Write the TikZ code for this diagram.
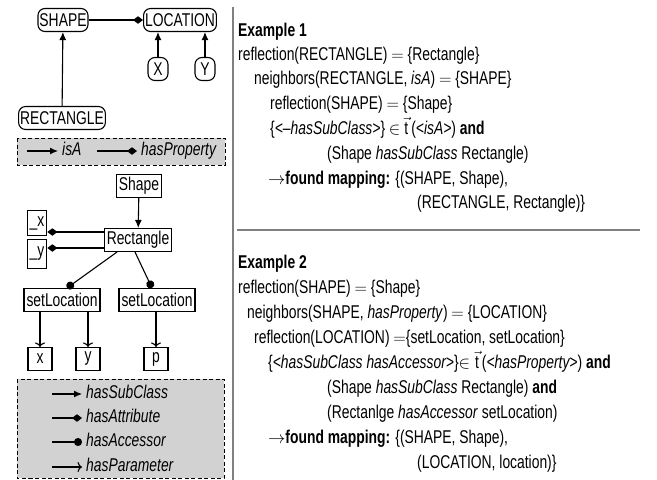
\documentclass[tikz,border=0pt]{standalone}
\usepackage{fontspec}
\setmainfont{Liberation Sans}[FakeStretch=0.75]
\usepackage{tikz}
\usetikzlibrary{arrows.meta}
\tikzstyle{concept} = [rectangle, rounded corners=7pt, draw=black, line width=1.1pt, minimum height=23pt, inner xsep=1.5pt, inner ysep=0pt]
\tikzstyle{entity} = [rectangle, draw=black, line width=1.1pt, minimum height=23pt, inner xsep=2.5pt, inner ysep=0pt]
\tikzstyle{legendbox} = [draw=black, line width=0.9pt, dash pattern=on 4pt off 2.5pt, fill=gray!35]
\tikzstyle{legtext} = [anchor=west, inner xsep=4pt, inner ysep=0pt, text height=13pt, text depth=4pt]
\tikzstyle{row} = [anchor=base west, inner sep=0pt]
\tikzstyle{divider} = [line width=2.5pt, draw=gray]
\tikzstyle{isa} = [line width=1.1pt, -{Latex[length=8pt,width=7pt]}]
\tikzstyle{hasprop} = [line width=1.1pt, -{Diamond[length=10pt,width=7.5pt]}]
\tikzstyle{accessor} = [line width=1.1pt, -{Circle[length=8pt]}]
\tikzstyle{paramarrow} = [line width=1.1pt, -{To[length=4.5pt,width=10pt]}]

\begin{document}
\begin{tikzpicture}[x=1pt, y=-1pt, font=\fontsize{18.5}{21}\selectfont]
\useasboundingbox (0,0) rectangle (657,480);

% ontology graph
\node (SHAPE) [concept] at (63,20) {SHAPE};
\node (LOCATION) [concept] at (180,20) {LOCATION};
\node (X) [concept, minimum width=20pt] at (158,69) {X};
\node (Y) [concept, minimum width=20pt] at (205,69) {Y};
\node (RECTANGLE) [concept] at (62,118) {RECTANGLE};

\draw [isa] (RECTANGLE) -- (SHAPE);
\draw [hasprop] (SHAPE) -- (LOCATION);
\draw [isa] (X) -- (X |- LOCATION.south);
\draw [isa] (Y) -- (Y |- LOCATION.south);

% legend of the ontology
\draw [legendbox] (17,138) rectangle (225,165);
\coordinate (IsAStart) at (27,151);
\node (IsA) [legtext] at (58,151) {\textit{isA}};
\coordinate (HasPropStart) at (97,151);
\node (HasProp) [legtext] at (137,151) {\textit{hasProperty}};
\draw [isa] (IsAStart) -- (IsA.west);
\draw [hasprop] (HasPropStart) -- (HasProp.west);

% code model graph
\node (Shape) [entity] at (139,186) {Shape};
\node (Rectangle) [entity] at (138,240) {Rectangle};
\node (UX) [entity, minimum height=25pt] at (37,223) {\_x};
\node (UY) [entity, minimum height=29pt] at (37,254) {\_y};
\node (SetLocA) [entity] at (62,300) {setLocation};
\node (SetLocB) [entity] at (157,300) {setLocation};
\node (ParX) [entity, minimum width=24pt] at (40,359) {x};
\node (ParY) [entity, minimum width=24pt] at (88,359) {y};
\node (ParP) [entity, minimum width=24pt] at (156,359) {p};

\draw [isa] (Shape) -- (Rectangle);
\draw [hasprop] ([yshift=8pt]Rectangle.west) -- ([yshift=8pt]Rectangle.west -| UX.east);
\draw [hasprop] ([yshift=-8pt]Rectangle.west) -- ([yshift=-8pt]Rectangle.west -| UY.east);
\draw [accessor] ([xshift=-21pt]Rectangle.south) -- ([xshift=5pt]SetLocA.north);
\draw [accessor] ([xshift=-3pt]Rectangle.south) -- ([xshift=-5pt]SetLocB.north);
\draw [paramarrow] (ParX |- SetLocA.south) -- (ParX);
\draw [paramarrow] (ParY |- SetLocA.south) -- (ParY);
\draw [paramarrow] (ParP |- SetLocB.south) -- (ParP);

% legend of the code model
\draw [legendbox] (17,379) rectangle (224,478);
\coordinate (SubStart) at (52,394);
\node (Sub) [legtext] at (82,394) {\textit{hasSubClass}};
\coordinate (AttrStart) at (52,418);
\node (Attr) [legtext] at (82,418) {\textit{hasAttribute}};
\coordinate (AccStart) at (52,442);
\node (Acc) [legtext] at (82,442) {\textit{hasAccessor}};
\coordinate (ParStart) at (52,467);
\node (Par) [legtext] at (82,467) {\textit{hasParameter}};
\draw [isa] (SubStart) -- (Sub.west);
\draw [hasprop] (AttrStart) -- (Attr.west);
\draw [accessor] (AccStart) -- (Acc.west);
\draw [paramarrow] (ParStart) -- (Par.west);

% dividers
\draw [divider] (233,7) -- (233,480);
\draw [divider] (237,230) -- (640,230);

% example 1
\node (ExA) [row] at (238,36) {\textbf{Example 1}};
\node (ExAReflA) [row] at (238,60) {reflection(RECTANGLE) $=$ \{Rectangle\}};
\node (ExANeigh) [row] at (254,84) {neighbors(RECTANGLE, \textit{isA}) $=$ \{SHAPE\}};
\node (ExAReflB) [row] at (270,109) {reflection(SHAPE) $=$ \{Shape\}};
\node (ExAPath) [row] at (270,134) {\{\textit{<–hasSubClass>}\} $\in$ $\vec{\mbox{t}}$\,(\textit{<isA>}) \textbf{and}};
\node (ExATriple) [row] at (327,159) {(Shape \textit{hasSubClass} Rectangle)};
\node (ExAMapA) [row] at (268,184) {$\rightarrow$\textbf{found mapping:} \{(SHAPE, Shape),};
\node (ExAMapB) [row] at (417,208) {(RECTANGLE, Rectangle)\}};

% example 2
\node (ExB) [row] at (238,268) {\textbf{Example 2}};
\node (ExBReflA) [row] at (238,293) {reflection(SHAPE) $=$ \{Shape\}};
\node (ExBNeigh) [row] at (247,318) {neighbors(SHAPE, \textit{hasProperty}) $=$ \{LOCATION\}};
\node (ExBReflB) [row] at (254,343) {reflection(LOCATION) $=$\{setLocation, setLocation\}};
\node (ExBPath) [row] at (268,368) {\{\textit{<hasSubClass hasAccessor>}\}$\in\vec{\mbox{t}}$\,(\textit{<hasProperty>}) \textbf{and}};
\node (ExBTripleA) [row] at (327,393) {(Shape \textit{hasSubClass} Rectangle) \textbf{and}};
\node (ExBTripleB) [row] at (327,418) {(Rectanlge \textit{hasAccessor} setLocation)};
\node (ExBMapA) [row] at (268,443) {$\rightarrow$\textbf{found mapping:} \{(SHAPE, Shape),};
\node (ExBMapB) [row] at (417,468) {(LOCATION, location)\}};
\end{tikzpicture}
\end{document}
